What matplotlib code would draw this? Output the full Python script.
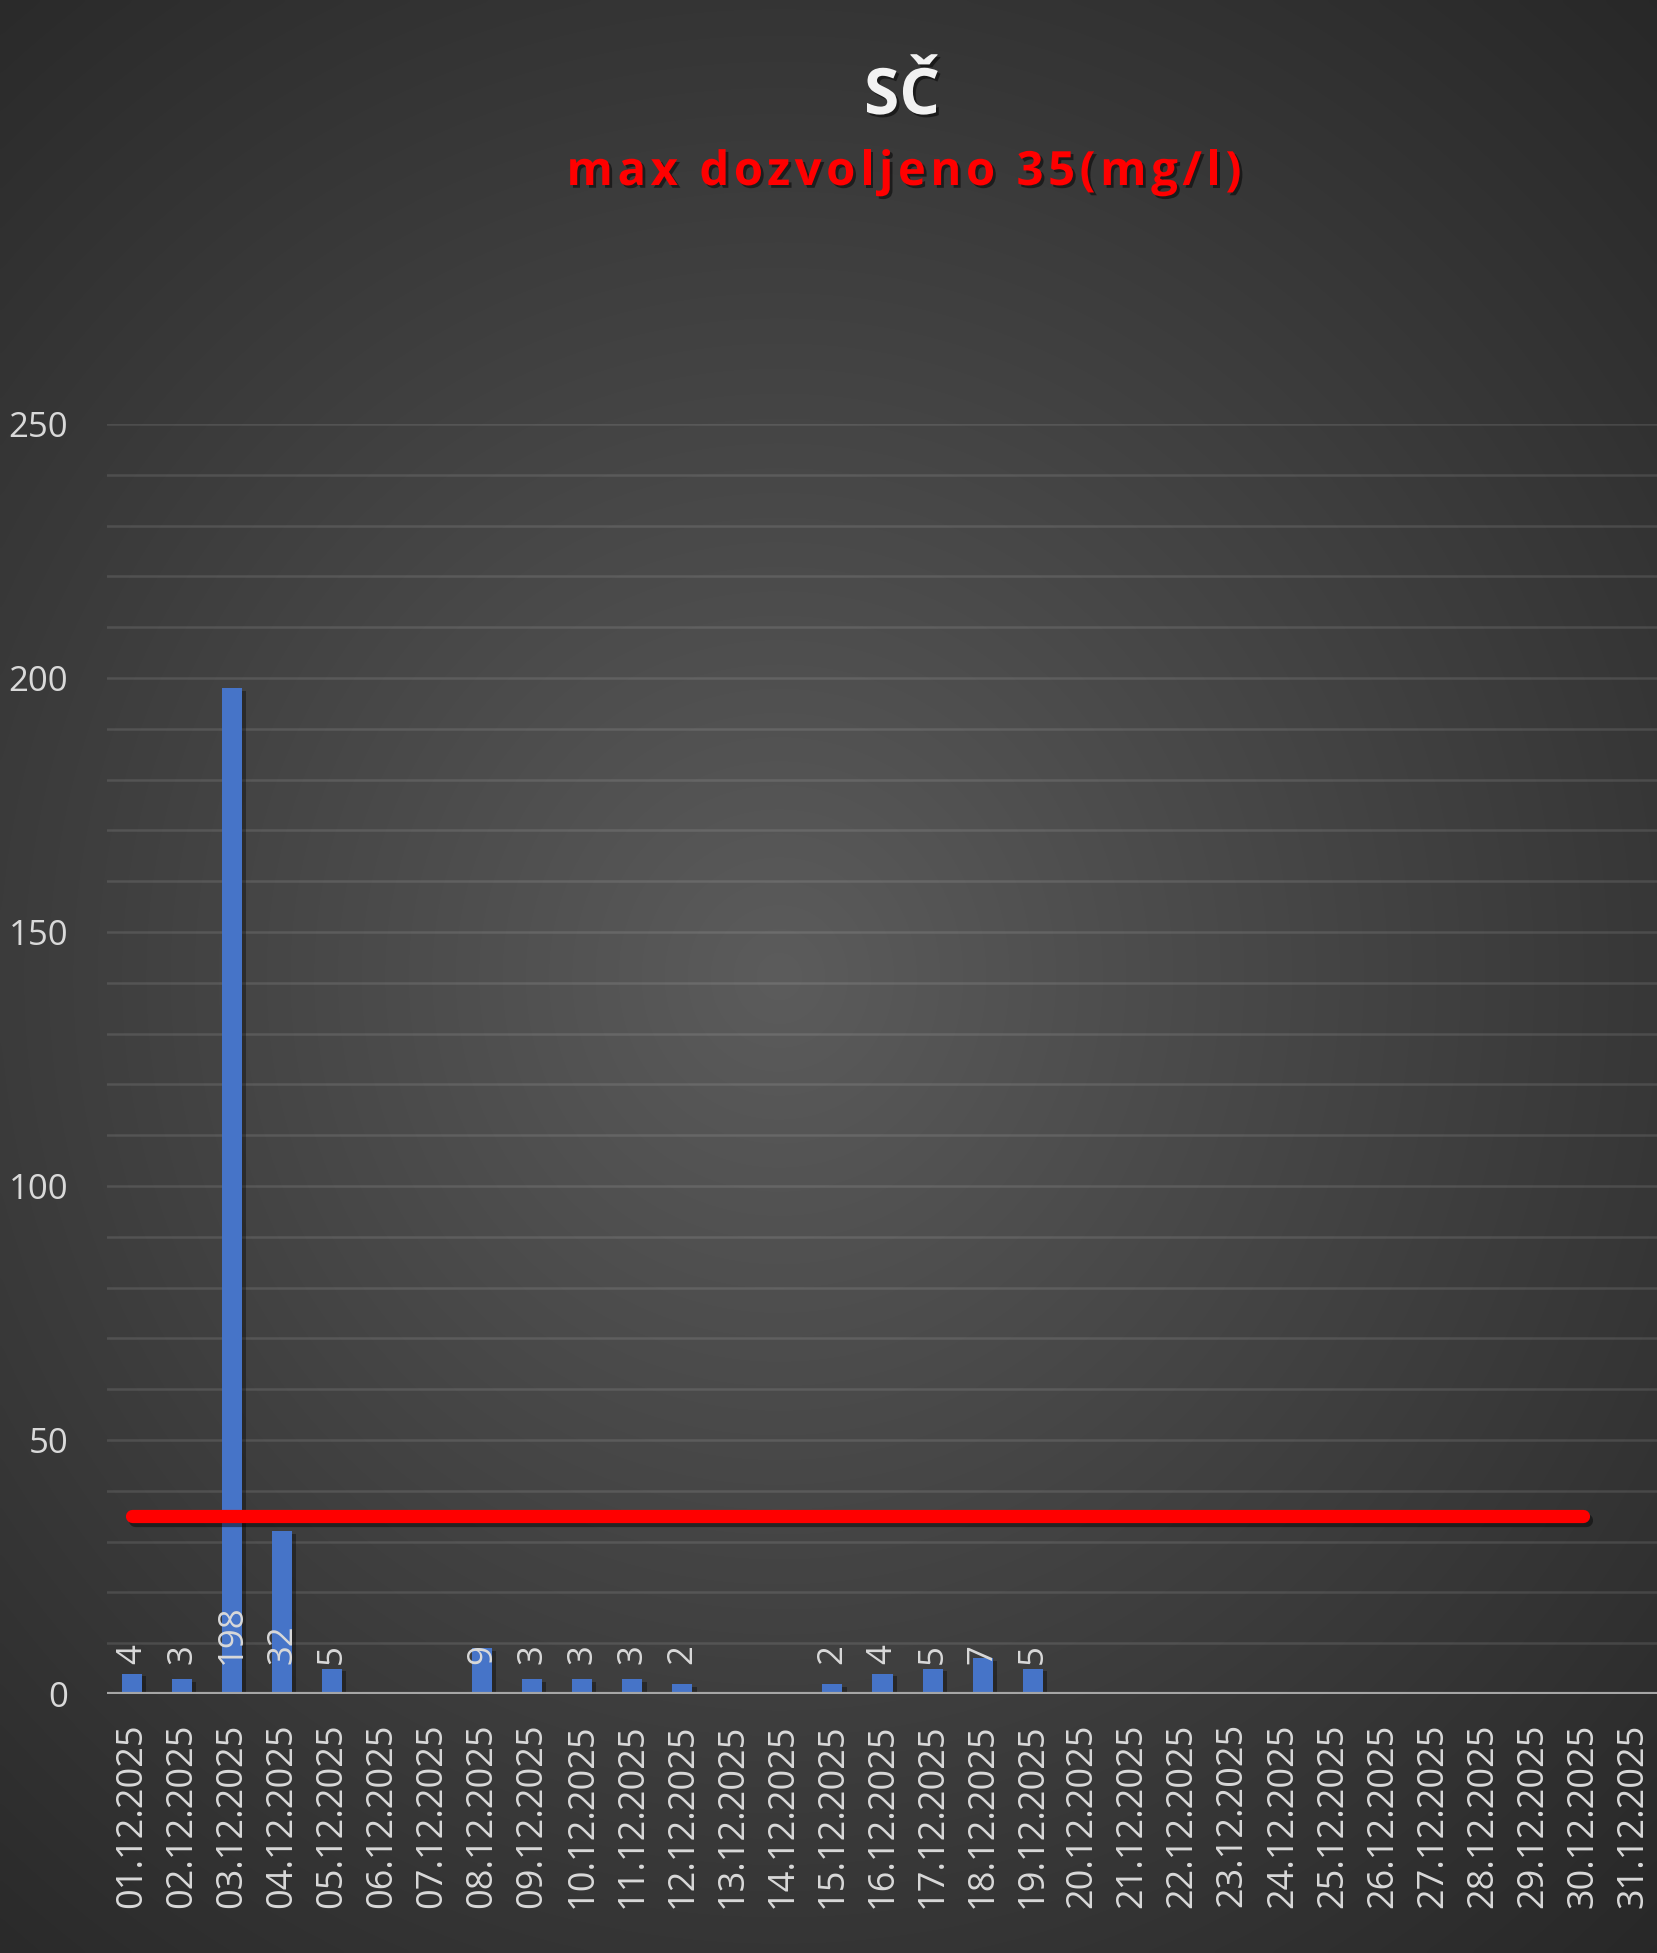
import numpy as np
import matplotlib
matplotlib.use("Agg")
import matplotlib.pyplot as plt
from matplotlib import patheffects as pe

# ---- data -------------------------------------------------------------
dates = [
    "01.12.2025", "02.12.2025", "03.12.2025", "04.12.2025", "05.12.2025",
    "06.12.2025", "07.12.2025", "08.12.2025", "09.12.2025", "10.12.2025",
    "11.12.2025", "12.12.2025", "13.12.2025", "14.12.2025", "15.12.2025",
    "16.12.2025", "17.12.2025", "18.12.2025", "19.12.2025", "20.12.2025",
    "21.12.2025", "22.12.2025", "23.12.2025", "24.12.2025", "25.12.2025",
    "26.12.2025", "27.12.2025", "28.12.2025", "29.12.2025", "30.12.2025",
    "31.12.2025",
]
sc_values = [4, 3, 198, 32, 5, None, None, 9, 3, 3, 3, 2, None, None, 2,
             4, 5, 7, 5, None, None, None, None, None, None, None, None,
             None, None, None, None]
limit_values = [35] * 30 + [None]
y_ticks = [0, 50, 100, 150, 200, 250]

title = "SČ"
subtitle = "max dozvoljeno 35(mg/l)"

# ---- figure -------------------------------------------------------------
W, H = 1658, 1953
DPI = 100
plt.rcParams["font.family"] = ["Open Sans", "DejaVu Sans"]
fig = plt.figure(figsize=(W / DPI, H / DPI), dpi=DPI)

# radial dark-grey background
bg = fig.add_axes([0, 0, 1, 1], zorder=-10)
gx, gy = np.meshgrid(np.linspace(0, 1, 400), np.linspace(0, 1, 480))
r = np.sqrt(((gx - 0.47) / 0.85) ** 2 + ((gy - 0.50) / 0.75) ** 2)
t = np.clip(1 - r, 0, 1) ** 1.1
edge = np.array([0x24, 0x24, 0x24]) / 255
centre = np.array([0x5c, 0x5c, 0x5c]) / 255
img = edge[None, None, :] + (centre - edge)[None, None, :] * t[..., None]
bg.imshow(img, extent=[0, 1, 0, 1], origin="lower", aspect="auto",
          interpolation="bicubic")
bg.set_axis_off()

left, right = 107 / W, 1.0
bottom, top = 1 - 1694 / H, 1 - 424 / H
ax = fig.add_axes([left, bottom, right - left, top - bottom])
ax.patch.set_alpha(0)

x = np.arange(len(dates))
vals = np.array([np.nan if v is None else v for v in sc_values], float)
lim = np.array([np.nan if v is None else v for v in limit_values], float)
has = ~np.isnan(vals)

bar_fx = [pe.SimplePatchShadow(offset=(3, -2), shadow_rgbFace="black",
                               alpha=0.35), pe.Normal()]
ax.bar(x[has], vals[has], width=0.4, color="#4674c8", zorder=3,
       path_effects=bar_fx)

line_fx = [pe.SimpleLineShadow(offset=(2, -3), shadow_color="black",
                               alpha=0.45), pe.Normal()]
ax.plot(x, lim, color="#ff0000", lw=9.5, solid_capstyle="round", zorder=5,
        path_effects=line_fx)

for xi, v in zip(x[has], vals[has]):
    ax.text(xi, 6, f"{int(v)}", rotation=90, ha="center", va="bottom",
            fontsize=25, color="#d9d9d9", zorder=6)

ax.set_xlim(-0.5, len(dates) - 0.5)
ax.set_ylim(0, 250)
ax.set_yticks(y_ticks)
ax.set_yticks(np.arange(0, 251, 10), minor=True)
ax.set_xticks(x)
ax.set_xticklabels(dates, rotation=90)
ax.grid(which="both", axis="y", color="white", alpha=0.11, lw=1.8, zorder=0)
ax.axhline(0, color="#a6a6a6", lw=3, zorder=4)
for s in ax.spines.values():
    s.set_visible(False)
ax.tick_params(axis="both", which="both", length=0)
ax.tick_params(axis="y", pad=28, labelsize=25, labelcolor="#d9d9d9")
ax.tick_params(axis="x", pad=21, labelsize=26, labelcolor="#d9d9d9")

# ---- titles ------------------------------------------------------------
txt_fx = [pe.SimplePatchShadow(offset=(2, -2), shadow_rgbFace="black",
                               alpha=0.5), pe.Normal()]
fig.text(902 / W, 1 - 114 / H, title, ha="center", va="baseline",
         fontsize=46, fontweight="bold", color="#f2f2f2", path_effects=txt_fx)


def tracked_text(s, x_center_px, y_frac, width_px, **kw):
    """Draw a string with extra letter spacing so it spans width_px."""
    rend = fig.canvas.get_renderer()

    def ink_width(t):
        tmp = fig.text(0, 0, t, **kw)
        w = tmp.get_window_extent(rend).width
        tmp.remove()
        return w

    natural = ink_width(s)
    track = (width_px - natural) / (len(s) - 1)
    x0 = x_center_px - width_px / 2
    for i, ch in enumerate(s):
        if ch == " ":
            continue
        right_px = x0 + ink_width(s[: i + 1]) + track * i
        fig.text(right_px / W, y_frac, ch, ha="right", va="baseline", **kw)


tracked_text(subtitle, 904, 1 - 185 / H, 675, fontsize=34,
             fontweight="bold", color="#ff0000", path_effects=txt_fx)

fig.savefig("out.png", dpi=DPI)
